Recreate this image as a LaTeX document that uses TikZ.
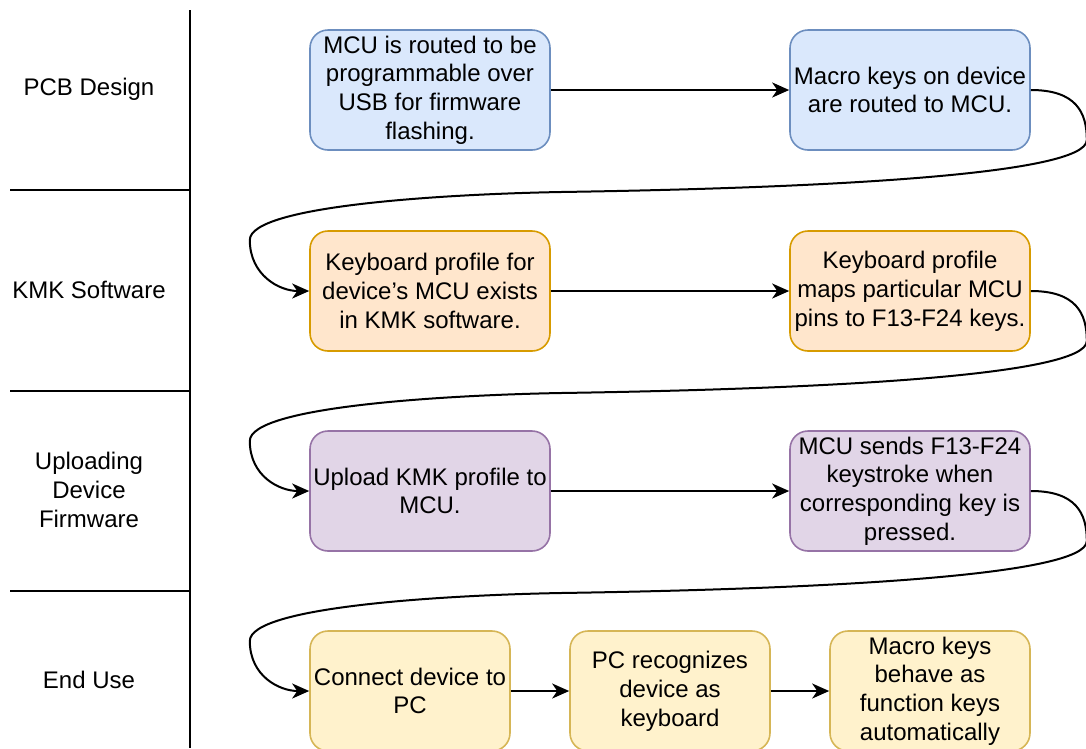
\documentclass[tikz,border=0pt]{standalone}
\usepackage{fontspec}
\setmainfont{Liberation Sans}
\usepackage{tikz}
\usetikzlibrary{arrows.meta}

\definecolor{pcbfill}{HTML}{DAE8FC}
\definecolor{pcbline}{HTML}{6C8EBF}
\definecolor{kmkfill}{HTML}{FFE6CC}
\definecolor{kmkline}{HTML}{D79B00}
\definecolor{upfill}{HTML}{E1D5E7}
\definecolor{upline}{HTML}{9673A6}
\definecolor{usefill}{HTML}{FFF2CC}
\definecolor{useline}{HTML}{D6B656}

\begin{document}
\begin{tikzpicture}
	[x=1pt, y=-1pt,
	box/.style={draw, rounded corners=18pt, line width=1.6pt, minimum width=240pt,
		minimum height=120pt, inner sep=0pt, align=center,
		font=\fontsize{24}{28.8}\selectfont},
	small/.style={box, minimum width=200pt},
	pcb/.style={box, fill=pcbfill, draw=pcbline},
	kmk/.style={box, fill=kmkfill, draw=kmkline},
	upl/.style={box, fill=upfill, draw=upline},
	use/.style={small, fill=usefill, draw=useline},
	lane/.style={align=center, font=\fontsize{24}{28.8}\selectfont},
	flow/.style={line width=2pt, -{Stealth[length=17pt,width=15pt,inset=5pt]}}]
	\useasboundingbox (0,0) rectangle (1086,748);

	% lanes
	\node[lane] (l1) at (89,89) {PCB Design};
	\node[lane] (l2) at (89,290) {KMK Software};
	\node[lane] (l3) at (89,490) {Uploading\\Device\\Firmware};
	\node[lane] (l4) at (89,680) {End Use};
	\draw[line width=2pt] (190,10) -- (190,748);
	\draw[line width=2pt] (10,190) -- (190,190);
	\draw[line width=2pt] (10,391) -- (190,391);
	\draw[line width=2pt] (10,591) -- (190,591);

	% boxes
	\node[pcb] (a1) at (430,90) {MCU is routed to be\\programmable over\\USB for firmware\\flashing.};
	\node[pcb] (a2) at (910,90) {Macro keys on device\\are routed to MCU.};
	\node[kmk] (b1) at (430,291) {Keyboard profile for\\device's MCU exists\\in KMK software.};
	\node[kmk] (b2) at (910,291) {Keyboard profile\\maps particular MCU\\pins to F13-F24 keys.};
	\node[upl] (c1) at (430,491) {Upload KMK profile to\\MCU.};
	\node[upl] (c2) at (910,491) {MCU sends F13-F24\\keystroke when\\corresponding key is\\pressed.};
	\node[use] (d1) at (410,691) {Connect device to\\PC};
	\node[use] (d2) at (670,691) {PC recognizes\\device as\\keyboard};
	\node[use] (d3) at (930,691) {Macro keys\\behave as\\function keys\\automatically};

	% arrows
	\draw[flow] (a1) -- (a2);
	\draw[flow] (b1) -- (b2);
	\draw[flow] (c1) -- (c2);
	\draw[flow] (d1) -- (d2);
	\draw[flow] (d2) -- (d3);
	\foreach \from/\to in {a2/b1, b2/c1, c2/d1} {
		\draw[flow] (\from.east) .. controls +(45,0) and +(0,-28) .. ++(56,50)
			.. controls +(0,35) and +(260,-4) .. ++(-526,52)
			.. controls +(-110,2) and +(0,-35) .. ++(-311,48)
			.. controls +(0,35) and +(-30,0) .. (\to.west);
	}
\end{tikzpicture}
\end{document}
